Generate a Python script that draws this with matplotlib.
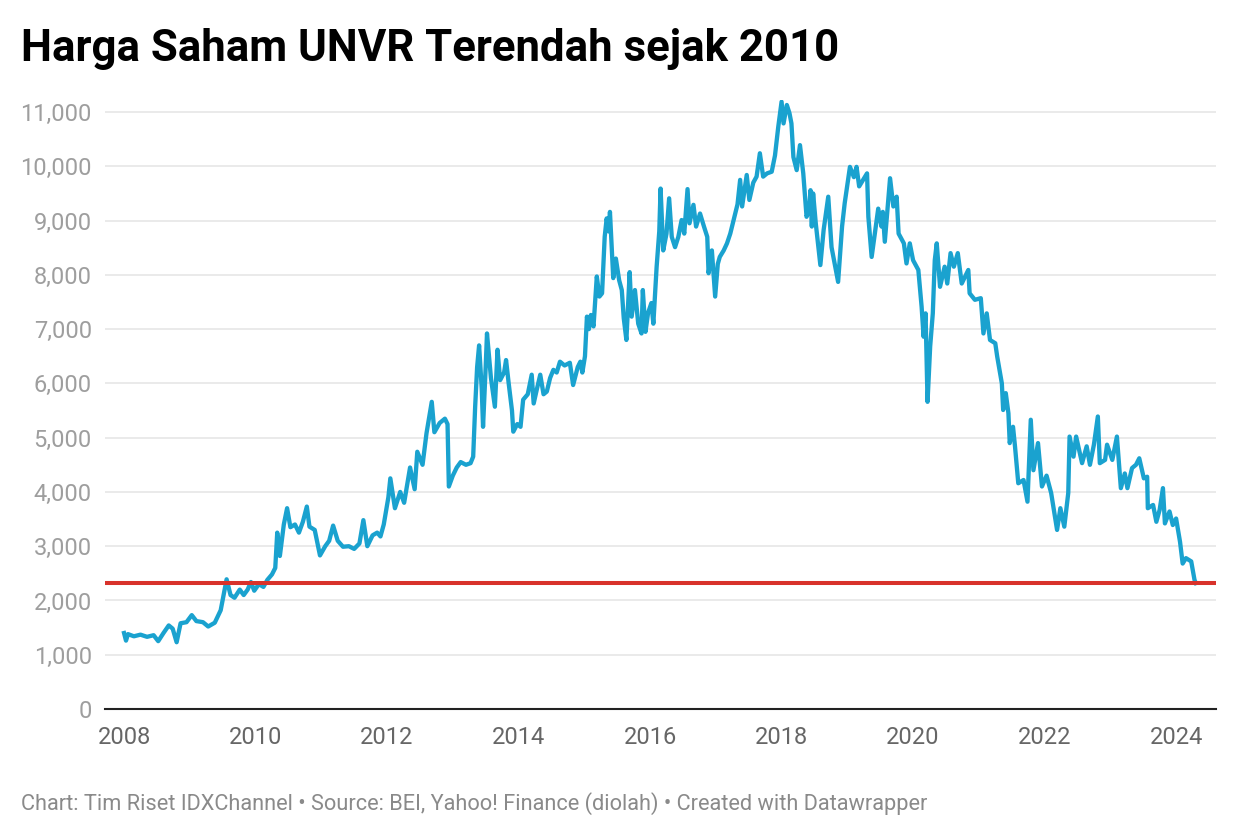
import numpy as np
import matplotlib
matplotlib.use("Agg")
import matplotlib.pyplot as plt
from matplotlib.ticker import FuncFormatter

plt.rcParams['font.family'] = ['Roboto', 'DejaVu Sans']

# harga penutupan UNVR, tahun desimal
tahun = [
    2008.00, 2008.03, 2008.06, 2008.15, 2008.25, 2008.35, 2008.45, 2008.52, 2008.60, 2008.68,
    2008.74, 2008.80, 2008.86, 2008.95, 2009.03, 2009.10, 2009.20, 2009.28, 2009.38, 2009.47,
    2009.53, 2009.56, 2009.62, 2009.68, 2009.76, 2009.82, 2009.88, 2009.93, 2009.98, 2010.05,
    2010.12, 2010.18, 2010.25, 2010.30, 2010.33, 2010.37, 2010.43, 2010.48, 2010.53, 2010.60,
    2010.66, 2010.72, 2010.78, 2010.82, 2010.90, 2010.98, 2011.06, 2011.12, 2011.18, 2011.25,
    2011.33, 2011.42, 2011.50, 2011.58, 2011.64, 2011.70, 2011.78, 2011.85, 2011.90, 2011.95,
    2012.02, 2012.05, 2012.12, 2012.20, 2012.26, 2012.35, 2012.42, 2012.46, 2012.54, 2012.60,
    2012.68, 2012.72, 2012.80, 2012.88, 2012.92, 2012.94, 2013.00, 2013.06, 2013.12, 2013.20,
    2013.27, 2013.31, 2013.34, 2013.37, 2013.40, 2013.44, 2013.46, 2013.50, 2013.52, 2013.58,
    2013.64, 2013.68, 2013.72, 2013.78, 2013.81, 2013.85, 2013.90, 2013.92, 2013.98, 2014.03,
    2014.07, 2014.14, 2014.20, 2014.23, 2014.28, 2014.33, 2014.38, 2014.43, 2014.48, 2014.53,
    2014.58, 2014.63, 2014.70, 2014.78, 2014.83, 2014.90, 2014.94, 2014.97, 2015.01, 2015.04,
    2015.07, 2015.10, 2015.14, 2015.19, 2015.23, 2015.27, 2015.31, 2015.34, 2015.37, 2015.39,
    2015.44, 2015.48, 2015.53, 2015.57, 2015.60, 2015.64, 2015.69, 2015.72, 2015.77, 2015.82,
    2015.87, 2015.89, 2015.93, 2015.97, 2016.02, 2016.05, 2016.10, 2016.14, 2016.16, 2016.20,
    2016.25, 2016.29, 2016.33, 2016.38, 2016.43, 2016.48, 2016.52, 2016.57, 2016.60, 2016.66,
    2016.70, 2016.76, 2016.82, 2016.87, 2016.89, 2016.94, 2016.99, 2017.03, 2017.06, 2017.12,
    2017.17, 2017.22, 2017.29, 2017.33, 2017.37, 2017.40, 2017.47, 2017.51, 2017.57, 2017.62,
    2017.67, 2017.72, 2017.78, 2017.85, 2017.90, 2017.95, 2018.00, 2018.03, 2018.08, 2018.12,
    2018.15, 2018.18, 2018.23, 2018.28, 2018.33, 2018.38, 2018.42, 2018.44, 2018.46, 2018.48,
    2018.52, 2018.59, 2018.64, 2018.71, 2018.76, 2018.86, 2018.92, 2018.96, 2019.04, 2019.10,
    2019.14, 2019.18, 2019.30, 2019.32, 2019.37, 2019.47, 2019.52, 2019.54, 2019.57, 2019.65,
    2019.70, 2019.75, 2019.78, 2019.86, 2019.90, 2019.95, 2020.00, 2020.08, 2020.13, 2020.16,
    2020.19, 2020.22, 2020.26, 2020.30, 2020.33, 2020.36, 2020.41, 2020.48, 2020.52, 2020.57,
    2020.62, 2020.68, 2020.74, 2020.84, 2020.86, 2020.94, 2021.03, 2021.07, 2021.12, 2021.17,
    2021.25, 2021.28, 2021.35, 2021.37, 2021.41, 2021.45, 2021.47, 2021.52, 2021.55, 2021.60,
    2021.68, 2021.74, 2021.79, 2021.83, 2021.90, 2021.96, 2022.03, 2022.10, 2022.19, 2022.24,
    2022.30, 2022.36, 2022.38, 2022.44, 2022.48, 2022.57, 2022.64, 2022.69, 2022.75, 2022.81,
    2022.84, 2022.92, 2022.95, 2023.03, 2023.10, 2023.16, 2023.22, 2023.26, 2023.33, 2023.39,
    2023.44, 2023.51, 2023.56, 2023.57, 2023.65, 2023.70, 2023.75, 2023.80, 2023.83, 2023.90,
    2023.95, 2024.00, 2024.06, 2024.10, 2024.15, 2024.23, 2024.28, 2024.30,
]
harga = [
    1400, 1260, 1380, 1340, 1370, 1330, 1360, 1250, 1400, 1540,
    1480, 1230, 1580, 1600, 1730, 1620, 1600, 1520, 1590, 1820,
    2200, 2390, 2100, 2050, 2200, 2100, 2200, 2340, 2180, 2300,
    2250, 2380, 2480, 2600, 3250, 2820, 3400, 3700, 3350, 3400,
    3250, 3450, 3730, 3360, 3300, 2830, 3000, 3100, 3380, 3100,
    2990, 3000, 2950, 3050, 3480, 3000, 3200, 3250, 3180, 3400,
    3900, 4250, 3700, 4000, 3800, 4450, 4050, 4740, 4500, 5080,
    5660, 5100, 5270, 5350, 5250, 4100, 4300, 4450, 4550, 4500,
    4530, 4650, 5570, 6300, 6700, 5900, 5200, 6300, 6920, 6100,
    5570, 6620, 6060, 6200, 6430, 6000, 5500, 5110, 5250, 5200,
    5700, 5800, 6160, 5630, 5900, 6160, 5800, 5850, 6100, 6250,
    6200, 6400, 6330, 6380, 5970, 6300, 6400, 6200, 6500, 7230,
    7000, 7260, 7050, 7970, 7600, 7660, 8700, 9040, 8800, 9160,
    7940, 8300, 7900, 7720, 7200, 6800, 8050, 7230, 7720, 7100,
    6920, 7720, 6950, 7300, 7480, 7100, 8150, 8800, 9590, 8450,
    8760, 9410, 8700, 8510, 8700, 9010, 8760, 9580, 8950, 9290,
    8890, 9130, 8890, 8700, 8030, 8450, 7600, 8200, 8330, 8450,
    8580, 8760, 9100, 9300, 9750, 9260, 9840, 9380, 9700, 9810,
    10240, 9810, 9870, 9900, 10200, 10730, 11190, 10790, 11130, 10980,
    10790, 10170, 9930, 10390, 9870, 9070, 9200, 9560, 8890, 9500,
    8950, 8180, 8830, 9440, 8510, 7870, 8890, 9320, 9990, 9800,
    9990, 9630, 9870, 9070, 8330, 9220, 8890, 9160, 8610, 9780,
    9260, 9440, 8760, 8580, 8210, 8580, 8270, 8090, 7410, 6860,
    7290, 5660, 6680, 7290, 8270, 8580, 7780, 8150, 7840, 8400,
    8150, 8400, 7840, 8090, 7660, 7540, 7570, 6920, 7290, 6800,
    6740, 6490, 6000, 5510, 5820, 5450, 4900, 5200, 4840, 4160,
    4220, 3820, 5330, 4400, 4900, 4100, 4300, 3980, 3300, 3700,
    3360, 3980, 5020, 4650, 5020, 4530, 4840, 4500, 4870, 5390,
    4530, 4590, 4870, 4590, 5020, 4070, 4340, 4070, 4440, 4500,
    4620, 4250, 4280, 3700, 3760, 3450, 3670, 4070, 3420, 3640,
    3390, 3510, 3080, 2680, 2780, 2720, 2380, 2320,
]
terendah = 2320

x_ticks = list(range(2008, 2025, 2))
y_ticks = list(range(0, 11001, 1000))

fig = plt.figure(figsize=(12.4, 8.36), dpi=100)
ax = fig.add_axes([0.0847, 0.1519, 0.8960, 0.7285])

ax.plot(tahun, harga, color='#1aa2cf', lw=3.1, solid_joinstyle='round', zorder=3)
ax.axhline(terendah, color='#d8322b', lw=2.9, zorder=4)

ax.set_xlim(2007.711, 2024.608)
ax.set_ylim(0, 11222)
ax.set_xticks(x_ticks)
ax.set_yticks(y_ticks)
ax.yaxis.set_major_formatter(FuncFormatter(lambda v, p: f"{int(v):,}"))

ax.grid(axis='y', color='#e4e4e4', lw=1.1, zorder=0)
ax.grid(axis='x', visible=False)
for s in ['top', 'right', 'left']:
    ax.spines[s].set_visible(False)
ax.spines['bottom'].set_color('#222222')
ax.spines['bottom'].set_linewidth(1.5)
ax.spines['bottom'].set_zorder(5)

ax.tick_params(axis='y', length=0, pad=9.5, labelsize=17, labelcolor='#9e9e9e')
ax.tick_params(axis='x', length=0, pad=12, labelsize=17, labelcolor='#666666')

fig.text(0.0170, 0.9270, "Harga Saham UNVR Terendah sejak 2010", fontsize=31.5,
         fontweight='bold', color='#000000', va='baseline', ha='left')
fig.text(0.0170, 0.0315,
         "Chart: Tim Riset IDXChannel \u2022 Source: BEI, Yahoo! Finance (diolah) \u2022 Created with Datawrapper",
         fontsize=15.7, color='#8a8a8a', va='baseline', ha='left')

fig.savefig("out.png", dpi=100, facecolor='white')
